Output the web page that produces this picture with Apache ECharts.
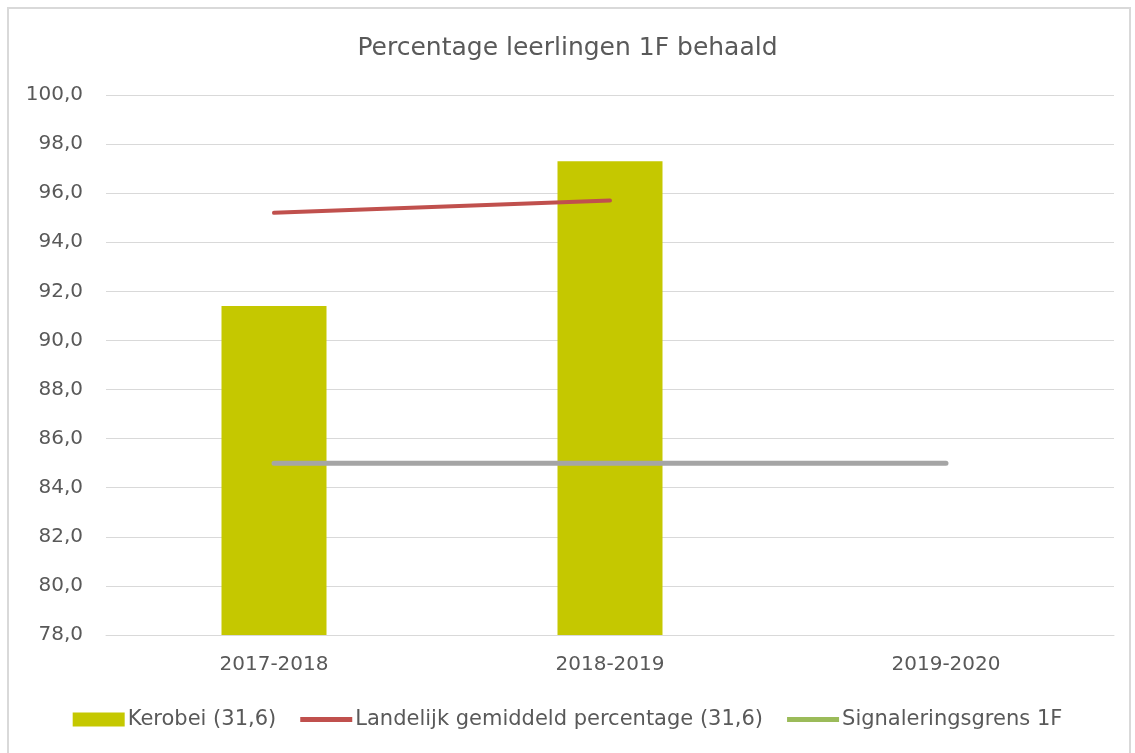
<!DOCTYPE html>
<html>
<head>
<meta charset="utf-8">
<script src="https://cdn.jsdelivr.net/npm/echarts@6/dist/echarts.min.js"></script>
<style>
  html, body { margin: 0; padding: 0; background: #fff; }
  #frame {
    position: absolute; left: 7px; top: 7px;
    width: 1124px; height: 750px;
    border: 2px solid #d9d9d9; box-sizing: border-box;
  }
  #chart { position: absolute; left: 0; top: 0; width: 1135px; height: 753px; }
</style>
</head>
<body>
<div id="frame"></div>
<div id="chart"></div>
<script>
// schooljaren
const categories = ['2017-2018', '2018-2019', '2019-2020']
// Kerobei (31,6)
const kerobei = [91.4, 97.3, null]
// Landelijk gemiddeld percentage (31,6)
const landelijk = [95.2, 95.7, null]
// Signaleringsgrens 1F
const signalering = [85, 85, 85]

const font = 'DejaVu Sans'
// dun lijntje in het midden van het legenda-vak
const lineIcon = 'path://M0,0 M52,14 M0,4.5 L52,4.5 L52,9.5 L0,9.5 Z'
const chart = echarts.init(document.getElementById('chart'))

chart.setOption({
  animation: false,
  title: {
    text: 'Percentage leerlingen 1F behaald',
    left: 'center',
    top: 31,
    textStyle: { fontFamily: font, fontSize: 25, fontWeight: 'normal', color: '#595959' }
  },
  grid: { left: 106, right: 21, top: 95, bottom: 118 },
  legend: {
    bottom: 18,
    left: 'center',
    itemWidth: 52,
    itemHeight: 14,
    itemGap: 24,
    textStyle: { fontFamily: font, fontSize: 21, color: '#595959', padding: [0, 0, 0, -2] },
    data: [
      { name: 'Kerobei (31,6)', icon: 'rect' },
      { name: 'Landelijk gemiddeld percentage (31,6)', icon: lineIcon },
      { name: 'Signaleringsgrens 1F', icon: lineIcon, itemStyle: { color: '#9bbb59' } }
    ]
  },
  xAxis: {
    type: 'category',
    data: categories,
    axisTick: { show: false },
    axisLine: { lineStyle: { color: '#d9d9d9', width: 1 } },
    axisLabel: { fontFamily: font, fontSize: 20, color: '#595959', margin: 20 }
  },
  yAxis: {
    type: 'value',
    min: 78,
    max: 100,
    interval: 2,
    axisLine: { show: false },
    axisTick: { show: false },
    splitLine: { lineStyle: { color: '#d9d9d9', width: 1 } },
    axisLabel: {
      fontFamily: font, fontSize: 20, color: '#595959', margin: 23,
      formatter: v => v.toFixed(1).replace('.', ',')
    }
  },
  series: [
    {
      name: 'Kerobei (31,6)',
      type: 'bar',
      data: kerobei,
      barWidth: 105,
      itemStyle: { color: '#c5c800' }
    },
    {
      name: 'Landelijk gemiddeld percentage (31,6)',
      type: 'line',
      data: landelijk,
      symbol: 'none',
      lineStyle: { color: '#c0504d', width: 4, cap: 'round' },
      itemStyle: { color: '#c0504d' }
    },
    {
      name: 'Signaleringsgrens 1F',
      type: 'line',
      data: signalering,
      symbol: 'none',
      lineStyle: { color: '#a5a5a5', width: 5, cap: 'round' },
      itemStyle: { color: '#a5a5a5' }
    }
  ]
})
</script>
</body>
</html>
